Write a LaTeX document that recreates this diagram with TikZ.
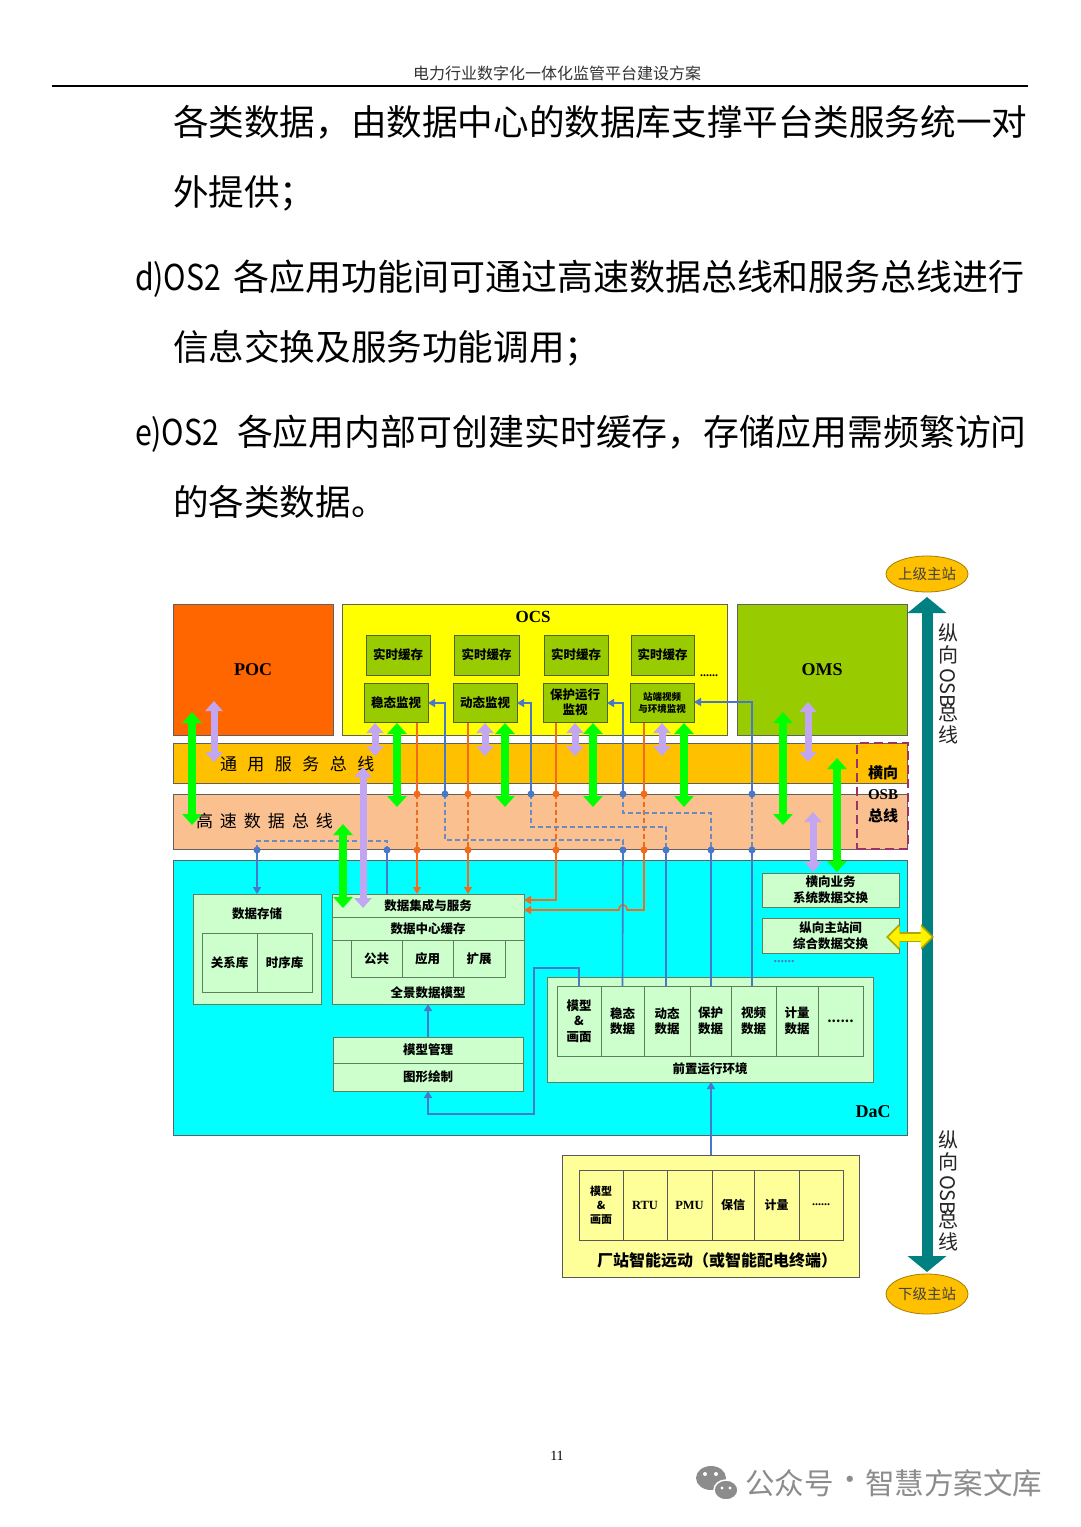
\documentclass[tikz,border=0pt]{standalone}
\usepackage{fontspec}
\usepackage{graphicx}
\setmainfont{Liberation Serif}
\newfontfamily\cjk{Noto Sans CJK SC}
\usetikzlibrary{arrows.meta,shapes.geometric}
\definecolor{pocO}{HTML}{FF6600}
\definecolor{ocsY}{HTML}{FFFF00}
\definecolor{appG}{HTML}{99CC00}
\definecolor{busA}{HTML}{FFC000}
\definecolor{busB}{HTML}{FAC090}
\definecolor{dacC}{HTML}{00FFFF}
\definecolor{lgreen}{HTML}{CCFFCC}
\definecolor{lyellow}{HTML}{FFFF99}
\definecolor{tealA}{HTML}{008080}
\definecolor{gArr}{HTML}{00FF00}
\definecolor{lArr}{HTML}{C3A6F2}
\definecolor{bLine}{HTML}{4A78C8}
\definecolor{bDash}{HTML}{6A8AC4}
\definecolor{oLine}{HTML}{F26B1D}
\definecolor{osbBox}{HTML}{A0306A}
\definecolor{ellF}{HTML}{FFC000}
\definecolor{boxB}{HTML}{5E7F5E}
\definecolor{appB}{HTML}{4F6228}
\definecolor{wm}{HTML}{8C8C8C}
\tikzset{
  every node/.style={inner sep=0pt, outer sep=0pt},
  blk/.style={draw=gray!75!black, line width=0.8pt},
  big/.style={blk, fill=#1},
  app/.style={draw=appB, line width=0.8pt, fill=appG, align=center, font=\cjk\bfseries\fontsize{12.5}{15}\selectfont},
  lg/.style={draw=boxB, line width=0.8pt, fill=lgreen, align=center, font=\cjk\bfseries\fontsize{12.5}{15.5}\selectfont},
  yc/.style={draw=gray!70!black, line width=0.8pt, fill=lyellow, align=center, font=\cjk\bfseries\fontsize{12}{14.5}\selectfont},
  txt/.style={font=\cjk\bfseries\fontsize{12.5}{15}\selectfont, align=center},
  lat/.style={font=\bfseries\fontsize{18}{20}\selectfont},
  body/.style={anchor=base west, font=\cjk\fontsize{35.6}{40}\selectfont},
  vch/.style={font=\cjk\fontsize{20}{22}\selectfont, text=black!85},
  gA/.style={draw=gArr, line width=8pt, {Triangle[width=19pt,length=11pt]}-{Triangle[width=19pt,length=11pt]}},
  lA/.style={draw=lArr, line width=7pt, {Triangle[width=17pt,length=10pt]}-{Triangle[width=17pt,length=10pt]}},
  bL/.style={draw=bLine, line width=1.6pt},
  bA/.style={bL, -{Triangle[width=8pt,length=7pt]}},
  bD/.style={draw=bDash, line width=1.5pt, dash pattern=on 5pt off 3pt},
  oL/.style={draw=oLine, line width=1.6pt},
  oA/.style={oL, -{Triangle[width=8pt,length=7pt]}},
  oD/.style={draw=oLine, line width=1.4pt, dash pattern=on 5pt off 3pt},
  dotB/.style={circle, fill=bLine, minimum size=7pt},
  dotO/.style={circle, fill=oLine, minimum size=7pt},
}
\begin{document}
\begin{tikzpicture}[x=1pt,y=-1pt]
\useasboundingbox (0,0) rectangle (1080,1527);
\fill[white] (0,0) rectangle (1080,1527);

% ---------- page header and text ----------
\node[font=\cjk\fontsize{16}{18}\selectfont, text=black!80] (hdr) at (557,73) {电力行业数字化一体化监管平台建设方案};
\draw[line width=1.2pt] (52,86) -- (1028,86);
\node[body] (t1) at (173,135.5) {各类数据，由数据中心的数据库支撑平台类服务统一对};
\node[body] (t2) at (173,205.5) {外提供；};
\node[body] (t3a) at (135,290.5) {\scalebox{0.85}[1]{d)OS2}};
\node[body, font=\cjk\fontsize{36}{40}\selectfont] (t3) at (233,290.5) {各应用功能间可通过高速数据总线和服务总线进行};
\node[body] (t4) at (173,360.5) {信息交换及服务功能调用；};
\node[body] (t5a) at (135,445.5) {\scalebox{0.85}[1]{e)OS2}};
\node[body, font=\cjk\fontsize{35.9}{40}\selectfont] (t5) at (237,445.5) {各应用内部可创建实时缓存，存储应用需频繁访问};
\node[body] (t6) at (173,515.5) {的各类数据。};
\node[font=\fontsize{14}{16}\selectfont] (pg) at (557,1456) {11};

% watermark
\fill[wm] (711,1478) ellipse [x radius=15, y radius=12];
\fill[wm, draw=white, line width=1.5pt] (726,1490) ellipse [x radius=12, y radius=10];
\fill[white] (705,1474) circle [radius=2]; \fill[white] (716,1474) circle [radius=2];
\fill[white] (722,1488) circle [radius=1.6]; \fill[white] (730,1488) circle [radius=1.6];
\node[anchor=west, text=wm, font=\cjk\fontsize{29.5}{31}\selectfont] (wm1) at (745,1483) {公众号};
\node[text=wm, font=\cjk\fontsize{29.5}{31}\selectfont] (wm2) at (850,1483) {·};
\node[anchor=west, text=wm, font=\cjk\fontsize{29.5}{31}\selectfont] (wm3) at (865,1483) {智慧方案文库};

% ---------- top row ----------
\node[big=pocO, minimum width=160pt, minimum height=131pt, lat] (poc) at (253,669.5) {POC};
\node[big=ocsY, minimum width=385pt, minimum height=131pt] (ocs) at (534.5,669.5) {};
\node[font=\bfseries\fontsize{17}{19}\selectfont] (ocsl) at (533,617) {OCS};
\node[big=appG, minimum width=170pt, minimum height=131pt, lat] (oms) at (822,669.5) {OMS};

\node[app, minimum width=64pt, minimum height=40pt] (rc1) at (398,655) {实时缓存};
\node[app, minimum width=65pt, minimum height=40pt] (rc2) at (486.5,655) {实时缓存};
\node[app, minimum width=64pt, minimum height=40pt] (rc3) at (576,655) {实时缓存};
\node[app, minimum width=63pt, minimum height=40pt] (rc4) at (662.5,655) {实时缓存};
\node[app, minimum width=64pt, minimum height=39pt] (m1) at (396,702.5) {稳态监视};
\node[app, minimum width=64pt, minimum height=39pt] (m2) at (485,702.5) {动态监视};
\node[app, minimum width=64pt, minimum height=39pt] (m3) at (575,702.5) {保护运行\\监视};
\node[app, minimum width=64pt, minimum height=39pt, font=\cjk\bfseries\fontsize{9.5}{12}\selectfont] (m4) at (662,702.5) {站端视频\\与环境监视};
\node[font=\bfseries\fontsize{12}{12}\selectfont] (odots) at (709,676) {......};

% ---------- buses ----------
\node[big=busA, minimum width=734pt, minimum height=40pt] (bus1) at (540,763) {};
\node[anchor=west, font=\cjk\fontsize{17}{17}\selectfont] (bus1t) at (220,764) {通\hspace{10.5pt}用\hspace{10.5pt}服\hspace{10.5pt}务\hspace{10.5pt}总\hspace{10.5pt}线};
\node[big=busB, minimum width=734pt, minimum height=55pt] (bus2) at (540,821.5) {};
\node[anchor=west, font=\cjk\fontsize{17}{17}\selectfont] (bus2t) at (196,821) {高\hspace{7pt}速\hspace{7pt}数\hspace{7pt}据\hspace{7pt}总\hspace{7pt}线};
\node[draw=osbBox, line width=2pt, dash pattern=on 9pt off 5pt, minimum width=51pt, minimum height=106pt] (osb) at (882.5,796) {};
\node[font=\cjk\bfseries\fontsize{15}{15}\selectfont] (osb1) at (883,773) {横向};
\node[font=\bfseries\fontsize{15}{15}\selectfont] (osb2) at (883,795) {OSB};
\node[font=\cjk\bfseries\fontsize{15}{15}\selectfont] (osb3) at (883,816) {总线};

% ---------- DaC ----------
\node[big=dacC, minimum width=734pt, minimum height=275pt] (dac) at (540,997.5) {};
\node[lat] (dacl) at (873,1112) {DaC};

\node[lg, minimum width=128pt, minimum height=110pt] (ds) at (257,949) {};
\node[txt] (dst) at (257,914) {数据存储};
\node[lg, minimum width=55pt, minimum height=59pt] (gx) at (229.5,962.5) {关系库};
\node[lg, minimum width=55pt, minimum height=59pt] (sx) at (284.5,962.5) {时序库};

\node[lg, minimum width=192pt, minimum height=110pt] (core) at (428,949) {};
\node[lg, minimum width=192pt, minimum height=23pt] (dj) at (428,905.5) {数据集成与服务};
\node[lg, minimum width=192pt, minimum height=23pt] (dcc) at (428,928.5) {数据中心缓存};
\node[lg, minimum width=51pt, minimum height=37pt] (gg) at (376.5,958.5) {公共};
\node[lg, minimum width=51pt, minimum height=37pt] (yy) at (427.5,958.5) {应用};
\node[lg, minimum width=52pt, minimum height=37pt] (kz) at (479,958.5) {扩展};
\node[txt] (qj) at (428,993) {全景数据模型};

\node[lg, minimum width=190pt, minimum height=26pt] (mg) at (428,1050) {模型管理};
\node[lg, minimum width=190pt, minimum height=28pt] (tx) at (428,1077) {图形绘制};

\node[lg, minimum width=137pt, minimum height=34pt, font=\cjk\bfseries\fontsize{12.5}{16}\selectfont] (hx) at (830.5,890) {横向业务\\系统数据交换};
\node[lg, minimum width=137pt, minimum height=35pt, font=\cjk\bfseries\fontsize{12.5}{16}\selectfont] (zx) at (830.5,935.5) {纵向主站间\\综合数据交换};
\node[text=bLine, font=\bfseries\fontsize{14}{14}\selectfont] (bdots) at (784,962) {......};

\node[lg, minimum width=326pt, minimum height=105pt] (qz) at (710,1029.5) {};
\node[lg, minimum width=44pt, minimum height=70pt] (q1) at (579,1021) {模型\\\&\\画面};
\node[lg, minimum width=43pt, minimum height=70pt] (q2) at (622.5,1021) {稳态\\数据};
\node[lg, minimum width=46pt, minimum height=70pt] (q3) at (667,1021) {动态\\数据};
\node[lg, minimum width=41pt, minimum height=70pt] (q4) at (710.5,1021) {保护\\数据};
\node[lg, minimum width=45pt, minimum height=70pt] (q5) at (753.5,1021) {视频\\数据};
\node[lg, minimum width=42pt, minimum height=70pt] (q6) at (797,1021) {计量\\数据};
\node[lg, minimum width=45pt, minimum height=70pt] (q7) at (840.5,1021) {......};
\node[txt] (qzt) at (710,1069) {前置运行环境};

% ---------- substation ----------
\node[draw=gray!70!black, line width=0.8pt, fill=lyellow, minimum width=297pt, minimum height=122pt] (cz) at (710.5,1216) {};
\node[yc, minimum width=44pt, minimum height=70pt, font=\cjk\bfseries\fontsize{11}{14}\selectfont] (f1) at (601,1205) {模型\\\&\\画面};
\node[yc, minimum width=44pt, minimum height=70pt, font=\bfseries\fontsize{12.5}{14}\selectfont] (f2) at (645,1205) {RTU};
\node[yc, minimum width=45pt, minimum height=70pt, font=\bfseries\fontsize{12.5}{14}\selectfont] (f3) at (689.5,1205) {PMU};
\node[yc, minimum width=42pt, minimum height=70pt] (f4) at (733,1205) {保信};
\node[yc, minimum width=45pt, minimum height=70pt] (f5) at (776.5,1205) {计量};
\node[yc, minimum width=44pt, minimum height=70pt, font=\bfseries\fontsize{12}{14}\selectfont] (f6) at (821,1205) {......};
\node[font=\cjk\bfseries\fontsize{16}{17}\selectfont] (czt) at (717,1260) {厂站智能远动（或智能配电终端）};

% ---------- vertical OSB ----------
\node[ellipse, draw=ellF!65!black, line width=0.8pt, fill=ellF, minimum width=80pt, minimum height=36pt, font=\cjk\fontsize{14.5}{15}\selectfont, text=black!75] (up) at (927,574) {上级主站};
\node[ellipse, draw=ellF!65!black, line width=0.8pt, fill=ellF, minimum width=80pt, minimum height=40pt, font=\cjk\fontsize{14.5}{15}\selectfont, text=black!75] (down) at (927,1294) {下级主站};
\draw[tealA, line width=11pt, {Triangle[width=38pt,length=16pt]}-{Triangle[width=38pt,length=16pt]}] ([yshift=-5pt]up.south) -- ([yshift=2pt]down.north);
\node[vch] (v1a) at (948,633) {纵};
\node[vch] (v1b) at (948,655) {向};
\node[vch, rotate=-90] (v1c) at (948,688) {OSB};
\node[vch] (v1d) at (948,713) {总};
\node[vch] (v1e) at (948,735) {线};
\node[vch] (v2a) at (948,1140) {纵};
\node[vch] (v2b) at (948,1162) {向};
\node[vch, rotate=-90] (v2c) at (948,1195) {OSB};
\node[vch] (v2d) at (948,1220) {总};
\node[vch] (v2e) at (948,1242) {线};

% ---------- thin connectors ----------
\foreach \x in {417,468,556,644} {
  \draw[oL] (\x,723) -- (\x,794);
  \draw[oD] (\x,794) -- (\x,850);
}
\draw[oA] (417,850) -- (417,894);
\draw[oA] (468,850) -- (468,894);
\draw[oA] (556,850) -- (556,900) -- (524,900);
\draw[oA] (644,850) -- (644,910) -- (627,910) .. controls (627,903) and (619,903) .. (619,910) -- (524,910);
\draw[bA] (445,794) -- (445,703) -- (428,703);
\draw[bA] (531,794) -- (531,703) -- (517,703);
\draw[bA] (623,794) -- (623,703) -- (607,703);
\draw[bA] (752,794) -- (752,702) -- (694,702);
\draw[bD] (445,794) -- (445,840) -- (623,840) -- (623,850);
\draw[bD] (531,794) -- (531,827) -- (666,827) -- (666,850);
\draw[bD] (623,794) -- (623,813) -- (711,813) -- (711,850);
\draw[bD] (752,794) -- (752,850);
\draw[bD] (257,850) -- (257,841) -- (387,841) -- (387,850);
\draw[bA] (257,850) -- (ds.north);
\draw[bL] (387,850) -- (387,894);
\draw[bL] (623,850) -- (q2.north);
\draw[bL] (666,850) -- (666,986);
\draw[bL] (711,850) -- (711,986);
\draw[bL] (752,850) -- (752,986);
\draw[bA] (q1.north) -- (579,968) -- (534,968) -- (534,1114) -- (428,1114) -- (tx.south);
\draw[bA] (mg.north) -- (core.south);
\draw[bA] (711,1155) -- (711,1082);
\foreach \p in {(445,794),(531,794),(623,794),(752,794),(257,850),(387,850),(623,850),(666,850),(711,850),(752,850)} \node[dotB] at \p {};
\foreach \p in {(417,794),(468,794),(556,794),(644,794),(417,850),(468,850),(556,850),(644,850)} \node[dotO] at \p {};

% ---------- thick arrows ----------
\draw[gA] (192,712) -- (192,825);
\draw[lA] (214,701) -- (214,762);
\draw[lA] (375,723) -- (375,756);
\draw[gA] (397,723) -- (397,807);
\draw[lA] (485,723) -- (485,756);
\draw[gA] (505,723) -- (505,807);
\draw[lA] (575,723) -- (575,756);
\draw[gA] (593,723) -- (593,807);
\draw[lA] (662,723) -- (662,756);
\draw[gA] (684,723) -- (684,807);
\draw[gA] (783,712) -- (783,825);
\draw[lA] (808,702) -- (808,762);
\draw[gA] (343,824) -- (343,908);
\draw[lA] (363,767) -- (363,908);
\draw[lA] (813,812) -- (813,872);
\draw[gA] (837,758) -- (837,872);
\draw[draw=olive!70!yellow, line width=10pt, {Triangle[width=25pt,length=13pt]}-{Triangle[width=25pt,length=13pt]}] (886,937) -- (934,937);
\draw[draw=yellow, line width=7pt, {Triangle[width=21pt,length=11pt]}-{Triangle[width=21pt,length=11pt]}] (888.5,937) -- (931.5,937);
\end{tikzpicture}
\end{document}
